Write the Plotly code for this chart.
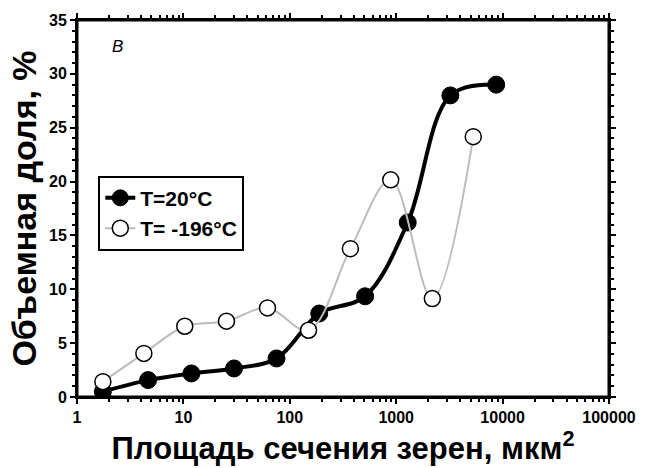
import plotly.graph_objects as go

# Data
x_20 = [1.75, 4.66, 11.9, 29.9, 75, 189, 510, 1283, 3230, 8710]
y_20 = [0.5, 1.57, 2.19, 2.65, 3.58, 7.75, 9.35, 16.2, 28.0, 29.0]
x_196 = [1.75, 4.25, 10.3, 25.4, 61.7, 150, 371, 888, 2185, 5300]
y_196 = [1.42, 4.05, 6.57, 7.04, 8.27, 6.2, 13.77, 20.16, 9.14, 24.17]

x_ticks = [1, 10, 100, 1000, 10000, 100000]
x_tick_labels = ["1", "10", "100", "1000", "10000", "100000"]
y_ticks = [0, 5, 10, 15, 20, 25, 30, 35]
y_tick_labels = [str(v) for v in y_ticks]

name_20 = "T=20°C"
name_196 = "T= -196°C"
x_title = "Площадь сечения зерен, мкм<sup>2</sup>"
y_title = "Объемная доля, %"
panel_label = "<i>В</i>"

FONT = "Liberation Sans, Arial, sans-serif"

fig = go.Figure()

fig.add_trace(go.Scatter(
    x=x_20, y=y_20, name="<b>" + name_20 + "</b>", mode="lines+markers",
    line=dict(color="black", width=4, shape="spline", smoothing=1),
    marker=dict(symbol="circle", size=17, color="black",
                line=dict(color="black", width=1)),
))
fig.add_trace(go.Scatter(
    x=x_196, y=y_196, name="<b>" + name_196 + "</b>", mode="lines+markers",
    line=dict(color="#bcbcbc", width=2, shape="spline", smoothing=1),
    marker=dict(symbol="circle", size=16, color="white",
                line=dict(color="black", width=1.5)),
))

fig.update_layout(
    width=648, height=468, autosize=False,
    margin=dict(l=77, r=30, t=19, b=71),
    paper_bgcolor="white", plot_bgcolor="white",
    font=dict(family=FONT, color="black"),
    xaxis=dict(type="log", range=[0, 5], tickvals=x_ticks,
               ticktext=["<b>%s</b>" % t for t in x_tick_labels],
               showgrid=False, zeroline=False,
               showline=True, linecolor="black", linewidth=2,
               mirror="allticks", ticks="outside", ticklen=5, tickwidth=2,
               tickcolor="black",
               minor=dict(ticks="outside", ticklen=3, tickwidth=1.5,
                          tickcolor="black", dtick="D1"),
               tickfont=dict(size=16, family=FONT),
               title=dict(text="<b>" + x_title + "</b>",
                          font=dict(size=31, family=FONT), standoff=0)),
    yaxis=dict(range=[0, 35], tickvals=y_ticks,
               ticktext=["<b>%s</b>" % t for t in y_tick_labels],
               showgrid=False, zeroline=False,
               showline=True, linecolor="black", linewidth=2,
               mirror="allticks", ticks="outside", ticklen=5, tickwidth=2,
               tickcolor="black",
               minor=dict(ticks="outside", ticklen=3, tickwidth=1.5,
                          tickcolor="black", dtick=1),
               tickfont=dict(size=16, family=FONT),
               title=dict(text="<b>" + y_title + "</b>",
                          font=dict(size=34, family=FONT), standoff=2)),
    legend=dict(x=0.04, y=0.587, xanchor="left", yanchor="top",
                bgcolor="white", bordercolor="black", borderwidth=2,
                font=dict(size=21, family=FONT)),
    annotations=[dict(text=panel_label, xref="paper", yref="paper",
                      x=0.076, y=0.931, xanchor="center", yanchor="middle",
                      showarrow=False, font=dict(size=17, family=FONT))],
    shapes=[dict(type="rect", xref="paper", yref="paper", x0=0, y0=0,
                 x1=1, y1=1, line=dict(color="black", width=3),
                 layer="above")],
)

fig.write_html("out.html", config={"displayModeBar": False},
               post_script="document.body.style.margin='0px';")
